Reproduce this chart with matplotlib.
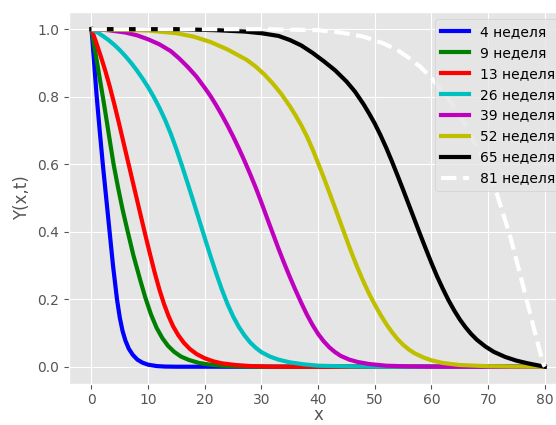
import matplotlib
matplotlib.use("Agg")
import matplotlib.pyplot as plt

plt.style.use("ggplot")
plt.rcParams['font.family'] = ['DejaVu Sans']

weeks = [4, 9, 13, 26, 39, 52, 65, 81]
labels = [f"{w} неделя" for w in weeks]
colors = ['b', 'g', 'r', 'c', 'm', 'y', 'k', 'w']
styles = ['-', '-', '-', '-', '-', '-', '-', '--']

x_w4 = [0, 0.2, 0.45, 0.9, 1.45, 2.0, 2.6, 3.2, 3.8, 4.5, 5.0, 5.5, 6.0, 6.6, 7.3, 8.1, 9, 10, 11.5, 13, 15, 80]
y_w4 = [1, 0.96, 0.905, 0.805, 0.7, 0.6, 0.5, 0.4, 0.3, 0.2, 0.145, 0.105, 0.077, 0.053, 0.035, 0.021, 0.012, 0.006, 0.002, 0.0005, 0, 0]

x_w9 = [0, 0.5, 1.0, 1.6, 2.2, 3.0, 3.9, 4.7, 5.5, 6.4, 7.4, 8.6, 9.5, 10.5, 11.5, 12.5, 13.5, 14.6, 15.8, 17.2, 19, 21, 23, 26, 30, 80]
y_w9 = [1, 0.95, 0.9, 0.84, 0.78, 0.695, 0.6, 0.53, 0.465, 0.4, 0.33, 0.257, 0.205, 0.155, 0.115, 0.085, 0.062, 0.044, 0.03, 0.02, 0.011, 0.006, 0.003, 0.001, 0, 0]

x_w13 = [0, 0.8, 1.6, 2.4, 3.2, 4, 4.8, 5.6, 6.4, 7.2, 8, 8.8, 9.6, 10.4, 11.2, 12, 12.8, 13.6, 14.4, 15.3, 16.3, 17.4, 18.6, 20, 21.5, 23, 25.5, 28, 32, 80]
y_w13 = [1, 0.962, 0.922, 0.879, 0.832, 0.78, 0.725, 0.668, 0.611, 0.554, 0.497, 0.44, 0.384, 0.329, 0.276, 0.228, 0.186, 0.15, 0.12, 0.094, 0.071, 0.052, 0.037, 0.025, 0.016, 0.01, 0.005, 0.002, 0, 0]

x_w26 = [0, 1, 2, 3, 4, 5, 6, 7, 8, 9, 10, 11, 12, 13, 14, 15, 16, 17, 18, 19, 20, 21, 22, 23, 24, 25, 26, 27, 28, 29, 30, 31.5, 33, 35, 37.5, 40, 45, 50, 80]
y_w26 = [1, 0.991, 0.98, 0.968, 0.954, 0.938, 0.92, 0.9, 0.878, 0.854, 0.828, 0.799, 0.767, 0.731, 0.69, 0.644, 0.594, 0.542, 0.489, 0.435, 0.381, 0.328, 0.277, 0.229, 0.186, 0.149, 0.118, 0.093, 0.072, 0.056, 0.043, 0.03, 0.021, 0.013, 0.007, 0.003, 0.001, 0, 0]

x_w39 = [0, 3, 6, 8, 10, 12, 14, 15.5, 17, 18.5, 20, 21, 22, 23, 24, 25, 26, 27, 28, 29, 30, 31, 32, 33, 34, 35, 36, 37, 38, 39, 40, 41, 42, 43, 44, 45.5, 47, 49, 52, 56, 60, 80]
y_w39 = [1, 0.997, 0.99, 0.982, 0.97, 0.955, 0.935, 0.913, 0.888, 0.86, 0.826, 0.802, 0.775, 0.746, 0.715, 0.682, 0.647, 0.61, 0.571, 0.53, 0.486, 0.44, 0.395, 0.35, 0.307, 0.266, 0.227, 0.19, 0.155, 0.124, 0.097, 0.075, 0.057, 0.043, 0.032, 0.021, 0.014, 0.008, 0.003, 0.001, 0, 0]

x_w52 = [0, 10, 15, 18, 21, 24, 27.4, 29, 30.5, 32, 33.5, 35, 36, 37, 38, 39, 40, 41, 42, 43, 44, 45, 46, 47, 48, 49, 50, 51, 52, 53, 54, 55, 56, 57, 58.5, 60, 62, 65, 70, 75, 80]
y_w52 = [1, 0.996, 0.988, 0.978, 0.962, 0.94, 0.909, 0.889, 0.866, 0.839, 0.808, 0.772, 0.745, 0.716, 0.683, 0.645, 0.603, 0.56, 0.515, 0.47, 0.424, 0.378, 0.333, 0.291, 0.252, 0.216, 0.184, 0.154, 0.127, 0.103, 0.082, 0.065, 0.051, 0.04, 0.028, 0.019, 0.011, 0.005, 0.0015, 0.0005, 0]

x_w65 = [0, 15, 22, 27, 30, 33, 35, 37, 39, 41, 43, 45, 46.5, 48, 49, 50, 51, 52, 53, 54, 55, 56, 57, 58, 59, 60, 61, 62, 63, 64, 65, 66, 67, 68, 69.5, 71, 73, 75, 77, 78.5, 80]
y_w65 = [1, 1, 0.997, 0.993, 0.988, 0.98, 0.968, 0.952, 0.93, 0.905, 0.878, 0.845, 0.815, 0.778, 0.75, 0.72, 0.686, 0.649, 0.609, 0.567, 0.524, 0.48, 0.436, 0.392, 0.349, 0.307, 0.267, 0.231, 0.197, 0.167, 0.14, 0.117, 0.097, 0.08, 0.06, 0.044, 0.029, 0.018, 0.01, 0.005, 0]

x_w81 = [0, 30, 40, 44, 48, 51.5, 54, 56, 58, 60, 62, 64, 66, 68, 70, 71.5, 72.7, 73.9, 75, 76.2, 77.1, 78, 78.9, 79.7, 80]
y_w81 = [1, 1, 0.997, 0.99, 0.978, 0.958, 0.938, 0.915, 0.889, 0.855, 0.815, 0.77, 0.715, 0.65, 0.58, 0.514, 0.45, 0.385, 0.315, 0.237, 0.178, 0.118, 0.06, 0.01, 0]

xs = [x_w4, x_w9, x_w13, x_w26, x_w39, x_w52, x_w65, x_w81]
ys = [y_w4, y_w9, y_w13, y_w26, y_w39, y_w52, y_w65, y_w81]

fig = plt.figure(figsize=(5.56, 4.25), dpi=100)
ax = fig.add_axes([68.8 / 556, 1 - 383.6 / 425, (567.5 - 68.8) / 556, (383.6 - 12.3) / 425])

for x, y, c, s, lab in zip(xs, ys, colors, styles, labels):
    ax.plot(x, y, color=c, linestyle=s, linewidth=3, label=lab)

ax.set_xlim(-4, 84)
ax.set_ylim(-0.05, 1.05)
ax.set_xticks([0, 10, 20, 30, 40, 50, 60, 70, 80])
ax.set_yticks([0.0, 0.2, 0.4, 0.6, 0.8, 1.0])
ax.set_xlabel("x", labelpad=-1)
ax.set_ylabel("Y(x,t)")
ax.legend(loc="upper right", fontsize=10)

fig.savefig("out.png", dpi=100)
